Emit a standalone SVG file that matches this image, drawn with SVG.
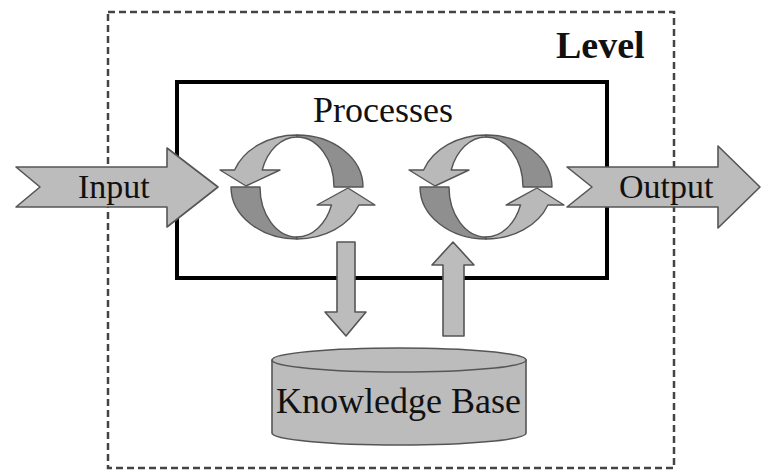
<svg xmlns="http://www.w3.org/2000/svg" width="763" height="471" viewBox="0 0 763 471">
  <style>
    .label { font-family: "Liberation Serif", "Times New Roman", serif; fill: #111; }
    .block { fill: #bcbcbc; stroke: #555; stroke-width: 1.6; stroke-linejoin: round; }
    .light { fill: #b9b9b9; stroke: #555; stroke-width: 1.4; stroke-linejoin: round; }
    .dark { fill: #8f8f8f; stroke: #555; stroke-width: 1.4; stroke-linejoin: round; }
  </style>
  <defs>
    <!-- one pair of curved arrows forming a loop, centred on the origin -->
    <g id="cycle">
      <path class="dark" d="M 0,-52 A 66 52 0 0 1 66,0 L 37,0 A 37 50 0 0 0 0,-50 Z"/>
      <path class="light" d="M 0,-52 A 66 52 0 0 0 -62.4,-17 L -77,-17 L -51,-1 L -17,-17 L -34.8,-17 A 37 50 0 0 1 0,-50 Z"/>
      <path class="dark" d="M -66,0 A 66 52 0 0 0 0,52 L 0,50 A 37 50 0 0 1 -37,0 Z"/>
      <path class="light" d="M 0,52 A 66 52 0 0 0 61.9,18 L 78,18 L 51,1 L 20,18 L 34.5,18 A 37 50 0 0 1 0,50 Z"/>
    </g>
  </defs>

  <rect width="763" height="471" fill="#fff"/>

  <!-- level boundary -->
  <g id="level">
    <rect x="108" y="12" width="566" height="456" fill="none" stroke="#444" stroke-width="2.5" stroke-dasharray="7 4"/>
    <text class="label" x="556" y="58" font-size="38" font-weight="bold">Level</text>
  </g>

  <!-- process frame -->
  <g id="processes">
    <rect x="177" y="82" width="430" height="196" fill="none" stroke="#000" stroke-width="4"/>
    <text class="label" x="313" y="122" font-size="36">Processes</text>
  </g>

  <!-- input and output arrows -->
  <g id="input">
    <polygon class="block" points="16,167 167,167 167,148 218,187 167,227 167,207 16,207 40,187"/>
    <text class="label" x="78" y="198" font-size="34">Input</text>
  </g>
  <g id="output">
    <polygon class="block" points="567,167 718,167 718,146 760,187 718,228 718,207 567,207 592,187"/>
    <text class="label" x="619" y="198" font-size="34">Output</text>
  </g>

  <!-- processing loops -->
  <g id="cycle-1">
    <use href="#cycle" transform="translate(297,187)"/>
  </g>
  <g id="cycle-2">
    <use href="#cycle" transform="translate(486,187)"/>
  </g>

  <!-- knowledge base store -->
  <g id="knowledge-base">
    <path class="block" d="M 272,360 L 272,433 A 127 12 0 0 0 526,433 L 526,360 Z"/>
    <ellipse class="block" cx="399" cy="360" rx="127" ry="12"/>
    <text class="label" x="276" y="413" font-size="36">Knowledge Base</text>
  </g>

  <!-- links between the loops and the knowledge base -->
  <g id="connectors">
    <polygon class="block" points="337,242 355,242 355,312 366,312 346,336 325,312 337,312"/>
    <polygon class="block" points="443,336 464,336 464,265 474,265 453,242 432,265 443,265"/>
  </g>
</svg>
